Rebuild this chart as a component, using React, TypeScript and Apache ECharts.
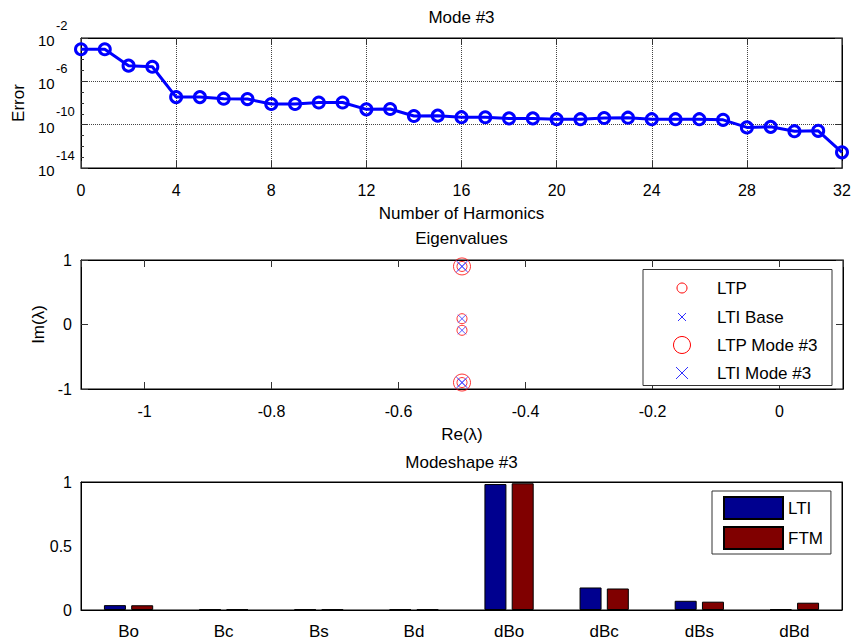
import React, { useEffect, useRef } from "react";
import * as echarts from "echarts";

// ---- Data ----
const harmonics = [0, 1, 2, 3, 4, 5, 6, 7, 8, 9, 10, 11, 12, 13, 14, 15, 16, 17, 18, 19, 20, 21, 22, 23, 24, 25, 26, 27, 28, 29, 30, 31, 32];
const modeError = [
  9.1e-4, 9.1e-4, 2.8e-5, 2.2e-5, 3.5e-8, 3.5e-8, 2.5e-8, 2.3e-8, 8.1e-9, 8.1e-9, 1.1e-8,
  1.1e-8, 2.6e-9, 2.8e-9, 6.3e-10, 6.8e-10, 4.9e-10, 4.8e-10, 3.8e-10, 3.8e-10, 3.2e-10,
  3.2e-10, 4.1e-10, 4.4e-10, 3.2e-10, 3.2e-10, 3.2e-10, 2.8e-10, 5.6e-11, 6.3e-11, 2.5e-11,
  2.7e-11, 2.8e-13,
];

const ltpRe = [-0.5, -0.5, -0.5, -0.5];
const ltpIm = [0.9, 0.09, -0.09, -0.9];
const ltiBaseRe = [-0.5, -0.5, -0.5, -0.5];
const ltiBaseIm = [0.9, 0.09, -0.09, -0.9];
const ltpModeRe = [-0.5, -0.5];
const ltpModeIm = [0.9, -0.9];
const ltiModeRe = [-0.5, -0.5];
const ltiModeIm = [0.9, -0.9];

const states = ["Bo", "Bc", "Bs", "Bd", "dBo", "dBc", "dBs", "dBd"];
const ltiShape = [0.038, 0.005, 0.005, 0.005, 0.984, 0.176, 0.072, 0.006];
const ftmShape = [0.037, 0.005, 0.005, 0.005, 0.99, 0.168, 0.065, 0.057];

const FONT = '"Liberation Sans", Arial, Helvetica, sans-serif';
const CROSS = "path://M0 0L10 10M10 0L0 10";

const pairs = (xs: number[], ys: number[]) => xs.map((x, i) => [x, ys[i]]);

export default function App() {
  const ref = useRef<HTMLDivElement>(null);

  useEffect(() => {
    if (!ref.current) return;
    const chart = echarts.init(ref.current, undefined, { renderer: "svg" });

    const tickStyle = { inside: true, length: 7, lineStyle: { color: "#333", width: 1 } };
    const axisLine = { show: true, onZero: false, lineStyle: { color: "#000", width: 1 } };
    const labelStyle = { color: "#000", fontSize: 16, fontFamily: FONT };
    const nameStyle = { color: "#000", fontSize: 17, fontFamily: FONT };
    const dotted = { show: true, lineStyle: { type: "dotted" as const, color: "#444", width: 1 } };

    const grids = [
      { left: 81, top: 38, width: 761, height: 130 },
      { left: 81, top: 260, width: 762, height: 129 },
      { left: 81, top: 482, width: 761, height: 128 },
    ].map((g) => ({ ...g, show: true, borderColor: "#000", borderWidth: 1, backgroundColor: "#fff" }));

    const titleText = (text: string, y: number) => ({
      type: "text",
      x: 461.5,
      y,
      style: { text, align: "center", verticalAlign: "middle", font: `17px ${FONT}`, fill: "#000" },
    });

    const legendRows = [
      { label: "LTP", y: 288 },
      { label: "LTI Base", y: 317 },
      { label: "LTP Mode #3", y: 345 },
      { label: "LTI Mode #3", y: 373 },
    ];
    const lx = 682;

    const option: any = {
      animation: false,
      textStyle: { fontFamily: FONT },
      grid: grids,
      legend: {
        data: ["LTI", "FTM"],
        orient: "vertical",
        left: 712,
        top: 491,
        padding: [5, 8, 4, 11],
        itemWidth: 59,
        itemHeight: 22,
        itemGap: 6,
        icon: "rect",
        backgroundColor: "#fff",
        borderColor: "#333",
        borderWidth: 1,
        borderRadius: 0,
        textStyle: { color: "#000", fontSize: 17, fontFamily: FONT },
      },
      xAxis: [
        {
          gridIndex: 0, type: "value", min: 0, max: 32, interval: 4,
          axisLine, axisTick: tickStyle, splitLine: dotted,
          axisLabel: { ...labelStyle, margin: 14 },
          name: "Number of Harmonics", nameLocation: "middle", nameGap: 37, nameTextStyle: nameStyle,
        },
        {
          gridIndex: 0, type: "value", position: "top", min: 0, max: 32, interval: 4,
          axisLine, axisTick: tickStyle, splitLine: { show: false }, axisLabel: { show: false },
        },
        {
          gridIndex: 1, type: "value", min: -1.1, max: 0.1, splitNumber: 6,
          axisLine, axisTick: tickStyle, splitLine: { show: false },
          axisLabel: { ...labelStyle, margin: 14, showMinLabel: false, showMaxLabel: false },
          name: "Re(λ)", nameLocation: "middle", nameGap: 37, nameTextStyle: nameStyle,
        },
        {
          gridIndex: 1, type: "value", position: "top", min: -1.1, max: 0.1, splitNumber: 6,
          axisLine, axisTick: tickStyle, splitLine: { show: false }, axisLabel: { show: false },
        },
        {
          gridIndex: 2, type: "category", data: states,
          axisLine, axisTick: { ...tickStyle, alignWithLabel: true }, splitLine: { show: false },
          axisLabel: { ...labelStyle, fontSize: 17, margin: 13 },
        },
        {
          gridIndex: 2, type: "category", position: "top", data: states,
          axisLine, axisTick: { ...tickStyle, alignWithLabel: true }, axisLabel: { show: false },
        },
      ],
      yAxis: [
        {
          gridIndex: 0, type: "value", min: -14, max: -2, interval: 4,
          axisLine, axisTick: tickStyle, splitLine: dotted,
          minorTick: { show: true, splitNumber: 4, length: 3, lineStyle: { color: "#333" } },
          axisLabel: {
            color: "#000", fontFamily: FONT, align: "left", margin: 43,
            formatter: (v: number) => `{sup|${v}}\n{base|10}`,
            rich: {
              sup: { fontSize: 13, lineHeight: 5, padding: [0, 0, 0, 18], fontFamily: FONT, color: "#000" },
              base: { fontSize: 15, lineHeight: 26, fontFamily: FONT, color: "#000" },
            },
          },
          name: "Error", nameLocation: "middle", nameGap: 54, nameTextStyle: nameStyle,
        },
        {
          gridIndex: 0, type: "value", position: "right", min: -14, max: -2, interval: 4,
          axisLine, axisTick: tickStyle, splitLine: { show: false }, axisLabel: { show: false },
        },
        {
          gridIndex: 1, type: "value", min: -1, max: 1, interval: 1,
          axisLine, axisTick: tickStyle, splitLine: { show: false },
          axisLabel: { ...labelStyle, margin: 9 },
          name: "Im(λ)", nameLocation: "middle", nameGap: 30, nameTextStyle: nameStyle,
        },
        {
          gridIndex: 1, type: "value", position: "right", min: -1, max: 1, interval: 1,
          axisLine, axisTick: tickStyle, splitLine: { show: false }, axisLabel: { show: false },
        },
        {
          gridIndex: 2, type: "value", min: 0, max: 1, interval: 0.5,
          axisLine, axisTick: tickStyle, splitLine: { show: false },
          axisLabel: { ...labelStyle, margin: 9 },
        },
        {
          gridIndex: 2, type: "value", position: "right", min: 0, max: 1, interval: 0.5,
          axisLine, axisTick: tickStyle, splitLine: { show: false }, axisLabel: { show: false },
        },
      ],
      series: [
        {
          name: "Error",
          type: "line",
          xAxisIndex: 0,
          yAxisIndex: 0,
          data: harmonics.map((h, i) => [h, Math.log10(modeError[i])]),
          symbol: "circle",
          symbolSize: 11,
          showAllSymbol: true,
          lineStyle: { color: "#0000FF", width: 3 },
          itemStyle: { color: "transparent", borderColor: "#0000FF", borderWidth: 3 },
          z: 5,
        },
        {
          name: "LTP", type: "scatter", xAxisIndex: 2, yAxisIndex: 2,
          data: pairs(ltpRe, ltpIm), symbol: "circle", symbolSize: 10,
          itemStyle: { color: "transparent", borderColor: "#FF0000", borderWidth: 1 },
        },
        {
          name: "LTI Base", type: "scatter", xAxisIndex: 2, yAxisIndex: 2,
          data: pairs(ltiBaseRe, ltiBaseIm), symbol: CROSS, symbolSize: 8,
          itemStyle: { color: "transparent", borderColor: "#3030FF", borderWidth: 1 },
        },
        {
          name: "LTP Mode #3", type: "scatter", xAxisIndex: 2, yAxisIndex: 2,
          data: pairs(ltpModeRe, ltpModeIm), symbol: "circle", symbolSize: 17,
          itemStyle: { color: "transparent", borderColor: "#FF0000", borderWidth: 1 },
        },
        {
          name: "LTI Mode #3", type: "scatter", xAxisIndex: 2, yAxisIndex: 2,
          data: pairs(ltiModeRe, ltiModeIm), symbol: CROSS, symbolSize: 12,
          itemStyle: { color: "transparent", borderColor: "#3030FF", borderWidth: 1 },
        },
        {
          name: "LTI", type: "bar", xAxisIndex: 4, yAxisIndex: 4, data: ltiShape,
          barWidth: 22, barGap: "24%",
          itemStyle: { color: "#00008F", borderColor: "#000", borderWidth: 1 },
        },
        {
          name: "FTM", type: "bar", xAxisIndex: 4, yAxisIndex: 4, data: ftmShape,
          barWidth: 22, barGap: "24%",
          itemStyle: { color: "#800000", borderColor: "#000", borderWidth: 1 },
        },
      ],
      graphic: [
        titleText("Mode #3", 17),
        titleText("Eigenvalues", 238),
        titleText("Modeshape #3", 462),
        {
          type: "rect", z: 50,
          shape: { x: 643, y: 269.5, width: 189, height: 116 },
          style: { fill: "#fff", stroke: "#333", lineWidth: 1 },
        },
        { type: "circle", z: 51, shape: { cx: lx, cy: legendRows[0].y, r: 5 }, style: { fill: "none", stroke: "#FF0000", lineWidth: 1 } },
        { type: "line", z: 51, shape: { x1: lx - 4, y1: legendRows[1].y - 4, x2: lx + 4, y2: legendRows[1].y + 4 }, style: { stroke: "#3030FF", lineWidth: 1 } },
        { type: "line", z: 51, shape: { x1: lx - 4, y1: legendRows[1].y + 4, x2: lx + 4, y2: legendRows[1].y - 4 }, style: { stroke: "#3030FF", lineWidth: 1 } },
        { type: "circle", z: 51, shape: { cx: lx, cy: legendRows[2].y, r: 8.5 }, style: { fill: "none", stroke: "#FF0000", lineWidth: 1 } },
        { type: "line", z: 51, shape: { x1: lx - 6, y1: legendRows[3].y - 6, x2: lx + 6, y2: legendRows[3].y + 6 }, style: { stroke: "#3030FF", lineWidth: 1 } },
        { type: "line", z: 51, shape: { x1: lx - 6, y1: legendRows[3].y + 6, x2: lx + 6, y2: legendRows[3].y - 6 }, style: { stroke: "#3030FF", lineWidth: 1 } },
        ...legendRows.map((r) => ({
          type: "text", z: 51, x: 717, y: r.y,
          style: { text: r.label, align: "left", verticalAlign: "middle", font: `17px ${FONT}`, fill: "#000" },
        })),
      ],
    };

    chart.setOption(option);
    return () => chart.dispose();
  }, []);

  return (
    <div
      ref={ref}
      style={{ position: "fixed", left: 0, top: 0, width: 854, height: 642, background: "#fff" }}
    />
  );
}
